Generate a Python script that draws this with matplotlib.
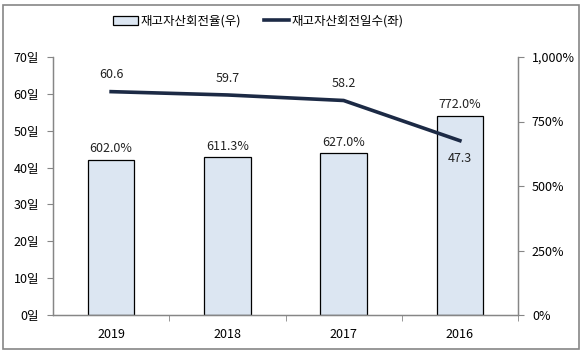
import matplotlib
matplotlib.use('Agg')
import matplotlib.pyplot as plt
from matplotlib.patches import Rectangle
from matplotlib.ticker import FuncFormatter, FixedLocator

plt.rcParams['font.family'] = ['Noto Sans CJK KR', 'DejaVu Sans']

years = ['2019', '2018', '2017', '2016']
turnover_rate = [602.0, 611.3, 627.0, 772.0]   # 재고자산회전율 (%), right axis
turnover_days = [60.6, 59.7, 58.2, 47.3]       # 재고자산회전일수 (일), left axis

bar_label = '재고자산회전율(우)'
line_label = '재고자산회전일수(좌)'

bar_color = '#dce6f2'
line_color = '#1c2a45'
axis_gray = '#868686'
fs = 9

fig = plt.figure(figsize=(5.87, 3.56), dpi=100)
ax = fig.add_axes([53 / 587, 1 - 315 / 356, 465 / 587, 258 / 356])
ax2 = ax.twinx()

x = list(range(len(years)))

# bars on the secondary (right) axis
ax2.bar(x, turnover_rate, width=0.4, color=bar_color, edgecolor='black', linewidth=0.9, zorder=2)
ax2.set_ylim(0, 1000)
ax2.set_yticks([0, 250, 500, 750, 1000])
ax2.yaxis.set_major_formatter(FuncFormatter(lambda v, p: f'{v:,.0f}%'))

for xi, v in zip(x, turnover_rate):
    ax2.text(xi, v + 18, f'{v:.1f}%', ha='center', va='bottom', fontsize=fs, color='#222222')

# line on the primary (left) axis, drawn on top
ax.set_zorder(ax2.get_zorder() + 1)
ax.patch.set_visible(False)
ax.plot(x, turnover_days, color=line_color, linewidth=2.6, zorder=3)
ax.set_ylim(0, 70)
ax.set_yticks(range(0, 71, 10))
ax.yaxis.set_major_formatter(FuncFormatter(lambda v, p: f'{v:.0f}일'))

for i, (xi, v) in enumerate(zip(x, turnover_days)):
    if i == len(x) - 1:
        ax.text(xi, v - 3.2, f'{v:.1f}', ha='center', va='top', fontsize=fs, color='#222222')
    else:
        ax.text(xi, v + 2.8, f'{v:.1f}', ha='center', va='bottom', fontsize=fs, color='#222222')

ax.set_xlim(-0.5, len(years) - 0.5)
ax.set_xticks(x)
ax.set_xticklabels(years)
ax.xaxis.set_minor_locator(FixedLocator([i + 0.5 for i in range(len(years))]))
ax.tick_params(axis='x', which='major', length=0, pad=9, labelsize=fs)
ax.tick_params(axis='x', which='minor', length=4, color=axis_gray, direction='out')
ax.tick_params(axis='y', length=4, color=axis_gray, labelsize=fs, pad=6)
ax2.tick_params(axis='y', length=4, color=axis_gray, labelsize=fs, pad=6)

for a in (ax, ax2):
    a.spines['top'].set_visible(False)
    for s in ('left', 'right', 'bottom'):
        a.spines[s].set_color(axis_gray)
        a.spines[s].set_linewidth(0.9)

# legend
handles = [Rectangle((0, 0), 1, 1, facecolor=bar_color, edgecolor='black', linewidth=0.9),
           plt.Line2D([0], [0], color=line_color, linewidth=2.6)]
fig.legend(handles, [bar_label, line_label], loc='center', bbox_to_anchor=(0.44, 1 - 21 / 356),
           ncol=2, frameon=False, fontsize=fs, handlelength=2.0, handletextpad=0.2,
           columnspacing=1.8)

# outer border
fig.patches.append(Rectangle((3 / 587, 1 - 349 / 356), 576 / 587, 344 / 356,
                             transform=fig.transFigure, fill=False,
                             edgecolor=axis_gray, linewidth=1.2))

fig.savefig('out.png', dpi=100)
